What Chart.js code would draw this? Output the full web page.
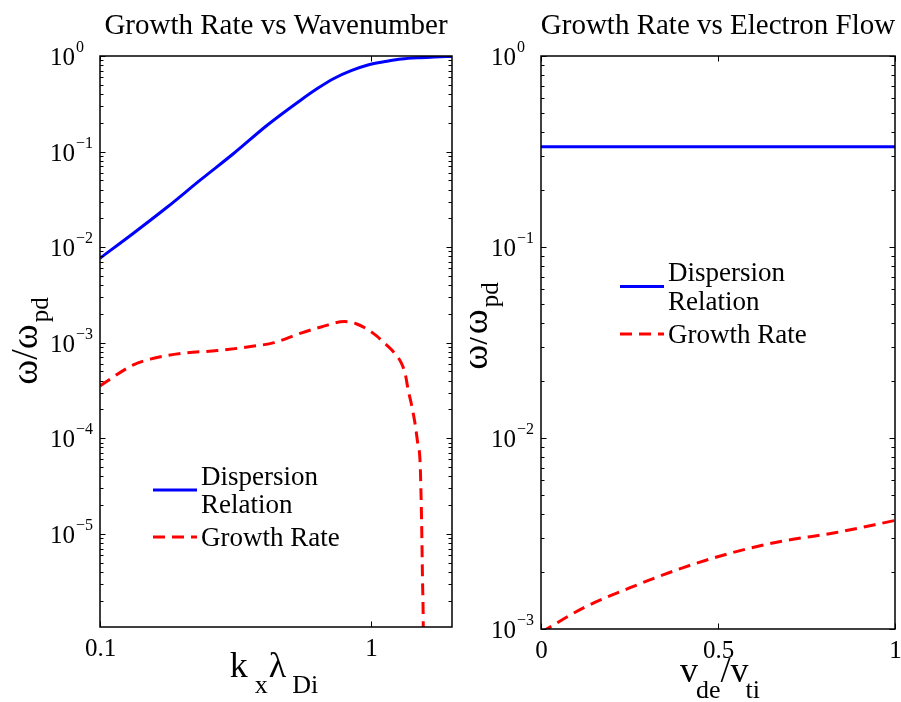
<!DOCTYPE html>
<html lang="en">
<head>
  <meta charset="UTF-8">
  <title>Growth Rate</title>
  <script src="https://cdn.jsdelivr.net/npm/chart.js"></script>
  <style>
    body { margin: 0; background: #fff; }
    #wrap { position: relative; width: 901px; height: 702px; }
    #wrap canvas { position: absolute; top: 0; }
    #leftChart { left: 0; }
    #rightChart { left: 470px; }
  </style>
</head>
<body>
<div id="wrap">
  <canvas id="leftChart" width="470" height="702"></canvas>
  <canvas id="rightChart" width="431" height="702"></canvas>
</div>

<script>
  // growth rate vs wavenumber (k_x lambda_Di)
  const kxDisp = [0.1, 0.1329, 0.1769, 0.2351, 0.3126, 0.4159, 0.553, 0.6378, 0.735, 0.8479, 0.9776, 1.15, 1.3, 1.5, 1.723, 2.0];
  const dispersionK = [7.65e-3, 0.01397, 0.0261, 0.0505, 0.096, 0.1897, 0.3467, 0.459, 0.585, 0.702, 0.805, 0.88, 0.93, 0.96, 0.976, 0.99];
  const kxGrowth = [0.1, 0.1329, 0.1533, 0.2037, 0.2711, 0.3604, 0.44, 0.553, 0.657, 0.8007, 0.8849, 0.9805, 1.05, 1.1267,
                    1.2143, 1.3, 1.3453, 1.377, 1.4164, 1.459, 1.4912, 1.525, 1.5366, 1.546, 1.556, 1.566, 1.572];
  const growthK = [3.53e-4, 5.86e-4, 6.72e-4, 7.76e-4, 8.26e-4, 9.1e-4, 1.0e-3, 1.26e-3, 1.46e-3, 1.66e-3, 1.578e-3, 1.36e-3, 1.183e-3, 9.88e-4,
                   8.04e-4, 6.1e-4, 4.62e-4, 3.21e-4, 2.25e-4, 1.44e-4, 9.21e-5, 5.48e-5, 2.57e-5, 1.1e-5, 3.32e-6, 1.07e-6, 1e-7];

  // growth rate vs electron flow (v_de / v_ti)
  const flowDisp = [0, 1];
  const dispersionFlow = [0.335, 0.335];
  const flow = [0, 0.12, 0.25, 0.4, 0.54, 0.68, 0.83, 1.0];
  const growthFlow = [0.96e-3, 1.29e-3, 1.64e-3, 2.09e-3, 2.51e-3, 2.88e-3, 3.19e-3, 3.7e-3];

  // tick labels
  const leftXTicks = [0.1, 1];
  const leftXLabels = ['0.1', '1'];
  const leftYTicks = [1e-5, 1e-4, 1e-3, 1e-2, 1e-1, 1];
  const leftYExp = ['\u22125', '\u22124', '\u22123', '\u22122', '\u22121', '0'];
  const rightXTicks = [0, 0.5, 1];
  const rightXLabels = ['0', '0.5', '1'];
  const rightYTicks = [1e-3, 1e-2, 1e-1, 1];
  const rightYExp = ['\u22123', '\u22122', '\u22121', '0'];

  const serif = '"Liberation Serif", "Times New Roman", serif';

  function pts(xs, ys) {
    return xs.map((x, i) => ({ x: x, y: ys[i] }));
  }

  // text with subscripts; parts = [text, isSub, gapBefore]
  function drawRich(ctx, parts, x, y, size, subSize, drop) {
    const fonts = parts.map(p => (p[1] ? subSize : size) + 'px ' + serif);
    let w = 0;
    parts.forEach((p, i) => { ctx.font = fonts[i]; w += (p[2] || 0) + ctx.measureText(p[0]).width; });
    let cx = x - w / 2;
    parts.forEach((p, i) => {
      ctx.font = fonts[i];
      cx += p[2] || 0;
      ctx.fillText(p[0], cx, y + (p[1] ? drop : 0));
      cx += ctx.measureText(p[0]).width;
    });
  }

  // boxed axes with inward ticks, 10^n labels, titles and a boxless legend
  const matlabAxes = {
    id: 'matlabAxes',
    afterDraw(chart, args, o) {
      const ctx = chart.ctx;
      const a = chart.chartArea;
      const xs = chart.scales.x, ys = chart.scales.y;
      ctx.save();
      ctx.fillStyle = '#000';
      ctx.strokeStyle = '#000';
      ctx.lineWidth = 1;
      ctx.setLineDash([]);

      const tick = (x1, y1, x2, y2) => {
        ctx.beginPath(); ctx.moveTo(x1, y1); ctx.lineTo(x2, y2); ctx.stroke();
      };

      // y minor ticks
      const lo = Math.floor(Math.log10(ys.min));
      for (let d = lo; d < 0; d++) {
        for (let m = 2; m <= 9; m++) {
          const v = m * Math.pow(10, d);
          if (v < ys.min || v > ys.max) continue;
          const py = Math.round(ys.getPixelForValue(v)) + 0.5;
          tick(a.left, py, a.left + 3.5, py);
          tick(a.right, py, a.right - 3.5, py);
        }
      }
      // y major ticks and labels
      o.yTicks.forEach((v, i) => {
        const py = Math.round(ys.getPixelForValue(v)) + 0.5;
        tick(a.left, py, a.left + 5.5, py);
        tick(a.right, py, a.right - 5.5, py);
        ctx.font = '25px ' + serif;
        ctx.textAlign = 'right';
        ctx.fillText('10', a.left - 25, py + 8.5);
        ctx.font = '16px ' + serif;
        ctx.textAlign = 'left';
        ctx.fillText(o.yExp[i], a.left - 24, py - 5);
      });
      // x ticks and labels
      o.xTicks.forEach((v, i) => {
        const px = Math.round(xs.getPixelForValue(v)) + 0.5;
        tick(px, a.bottom, px, a.bottom - 5.5);
        tick(px, a.top, px, a.top + 5.5);
        ctx.font = '25px ' + serif;
        ctx.textAlign = 'center';
        ctx.fillText(o.xLabels[i], px, a.bottom + 29);
      });

      // box
      ctx.lineWidth = 1.5;
      ctx.strokeRect(a.left, a.top, a.right - a.left, a.bottom - a.top);

      // title
      ctx.font = '29px ' + serif;
      ctx.textAlign = 'center';
      ctx.fillText(o.title, (a.left + a.right) / 2, 34);

      // axis labels
      ctx.textAlign = 'left';
      drawRich(ctx, o.xLabel.parts, o.xLabel.x, o.xLabel.y, 36, 26, 16);
      ctx.save();
      ctx.translate(o.yLabel.x, o.yLabel.y);
      ctx.rotate(-Math.PI / 2);
      drawRich(ctx, o.yLabel.parts, 0, 0, 38, 25, 11);
      ctx.restore();

      // legend
      let by = o.legend.y;
      chart.data.datasets.forEach(ds => {
        const lines = ds.label.split('\n');
        const ly = by - 9 + (lines.length - 1) * o.legend.lh / 2;
        ctx.strokeStyle = ds.borderColor;
        ctx.lineWidth = ds.borderWidth;
        ctx.setLineDash(ds.borderDash || []);
        tick(o.legend.x, ly, o.legend.x + 44, ly);
        ctx.setLineDash([]);
        ctx.font = '27px ' + serif;
        ctx.textAlign = 'left';
        lines.forEach((t, j) => ctx.fillText(t, o.legend.x + 48, by + j * o.legend.lh));
        by += lines.length * o.legend.lh + o.legend.gap;
      });
      ctx.restore();
    }
  };

  function makeChart(id, datasets, xScale, yScale, padding, axes) {
    return new Chart(document.getElementById(id), {
      type: 'line',
      data: { datasets: datasets },
      options: {
        responsive: false,
        animation: false,
        events: [],
        layout: { padding: padding },
        elements: { point: { radius: 0 } },
        scales: {
          x: Object.assign({ display: false }, xScale),
          y: Object.assign({ display: false }, yScale)
        },
        plugins: {
          legend: { display: false },
          tooltip: { enabled: false },
          matlabAxes: axes
        }
      },
      plugins: [matlabAxes]
    });
  }

  const blue = {
    label: 'Dispersion\nRelation',
    borderColor: '#0000ff',
    borderWidth: 3,
    fill: false,
    cubicInterpolationMode: 'monotone'
  };
  const red = {
    label: 'Growth Rate',
    borderColor: '#ff0000',
    borderWidth: 3,
    borderDash: [12, 7],
    fill: false,
    cubicInterpolationMode: 'monotone'
  };

  makeChart('leftChart',
    [
      Object.assign({}, blue, { data: pts(kxDisp, dispersionK) }),
      Object.assign({}, red, { data: pts(kxGrowth, growthK) })
    ],
    { type: 'logarithmic', min: 0.1, max: 2 },
    { type: 'logarithmic', min: 1.057e-6, max: 1 },
    { left: 100, right: 18, top: 56, bottom: 75 },
    {
      title: 'Growth Rate vs Wavenumber',
      xTicks: leftXTicks, xLabels: leftXLabels,
      yTicks: leftYTicks, yExp: leftYExp,
      xLabel: { x: 274, y: 677, parts: [['k', false], ['x', true, 7], ['\u03bb', false, 1], ['Di', true, 6]] },
      yLabel: { x: 37, y: 341, parts: [['\u03c9/\u03c9', false], ['pd', true, 2]] },
      legend: { x: 153, y: 485, lh: 28, gap: 5 }
    });

  makeChart('rightChart',
    [
      Object.assign({}, blue, { data: pts(flowDisp, dispersionFlow) }),
      Object.assign({}, red, { data: pts(flow, growthFlow) })
    ],
    { type: 'linear', min: 0, max: 1 },
    { type: 'logarithmic', min: 1e-3, max: 1 },
    { left: 71, right: 6, top: 56, bottom: 73 },
    {
      title: 'Growth Rate vs Electron Flow',
      xTicks: rightXTicks, xLabels: rightXLabels,
      yTicks: rightYTicks, yExp: rightYExp,
      xLabel: { x: 250, y: 682, parts: [['v', false], ['de', true, -2], ['/', false], ['v', false], ['ti', true, -3]] },
      yLabel: { x: 17, y: 326, parts: [['\u03c9/\u03c9', false], ['pd', true, 2]] },
      legend: { x: 150, y: 281, lh: 29, gap: 4 }
    });
</script>
</body>
</html>
